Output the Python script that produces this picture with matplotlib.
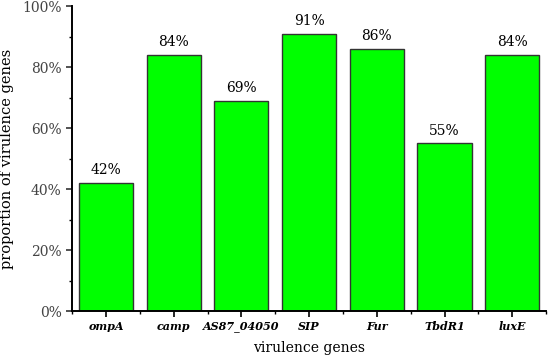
import numpy as np
import matplotlib.pyplot as plt
from matplotlib.ticker import MultipleLocator, PercentFormatter

plt.rcParams['font.family'] = ['DejaVu Serif']

genes = ['ompA', 'camp', 'AS87_04050', 'SIP', 'Fur', 'TbdR1', 'luxE']
proportion = [42, 84, 69, 91, 86, 55, 84]

fig = plt.figure(figsize=(5.5, 3.6), dpi=100)
ax = fig.add_axes([0.131, 0.136, 0.862, 0.847])

x = np.arange(len(genes))
ax.bar(x, proportion, width=0.8, color='#00ff00', edgecolor='#333333', linewidth=1.0)

# value labels above bars
for xi, v in zip(x, proportion):
    ax.text(xi, v + 1.8, f'{v}%', ha='center', va='bottom', fontsize=10)

ax.set_xlim(-0.5, 6.5)
ax.set_ylim(0, 100)
ax.set_xticks(x)
ax.set_xticklabels(genes, fontsize=8, fontweight='bold', fontstyle='italic')
ax.xaxis.set_minor_locator(MultipleLocator(1, offset=0.5))
ax.yaxis.set_major_locator(MultipleLocator(20))
ax.yaxis.set_minor_locator(MultipleLocator(10))
ax.yaxis.set_major_formatter(PercentFormatter(decimals=0))
ax.tick_params(axis='y', labelsize=10, colors='#333333', labelcolor='#444444')
ax.tick_params(axis='both', which='major', length=4, width=1.2)
ax.tick_params(axis='both', which='minor', length=2.5, width=1.0)

for s in ['top', 'right']:
    ax.spines[s].set_visible(False)
for s in ['left', 'bottom']:
    ax.spines[s].set_linewidth(1.4)

ax.set_ylabel('proportion of virulence genes', fontsize=10.5, labelpad=6)
ax.set_xlabel('virulence genes', fontsize=10, labelpad=6)

fig.savefig('out.png', dpi=100)
